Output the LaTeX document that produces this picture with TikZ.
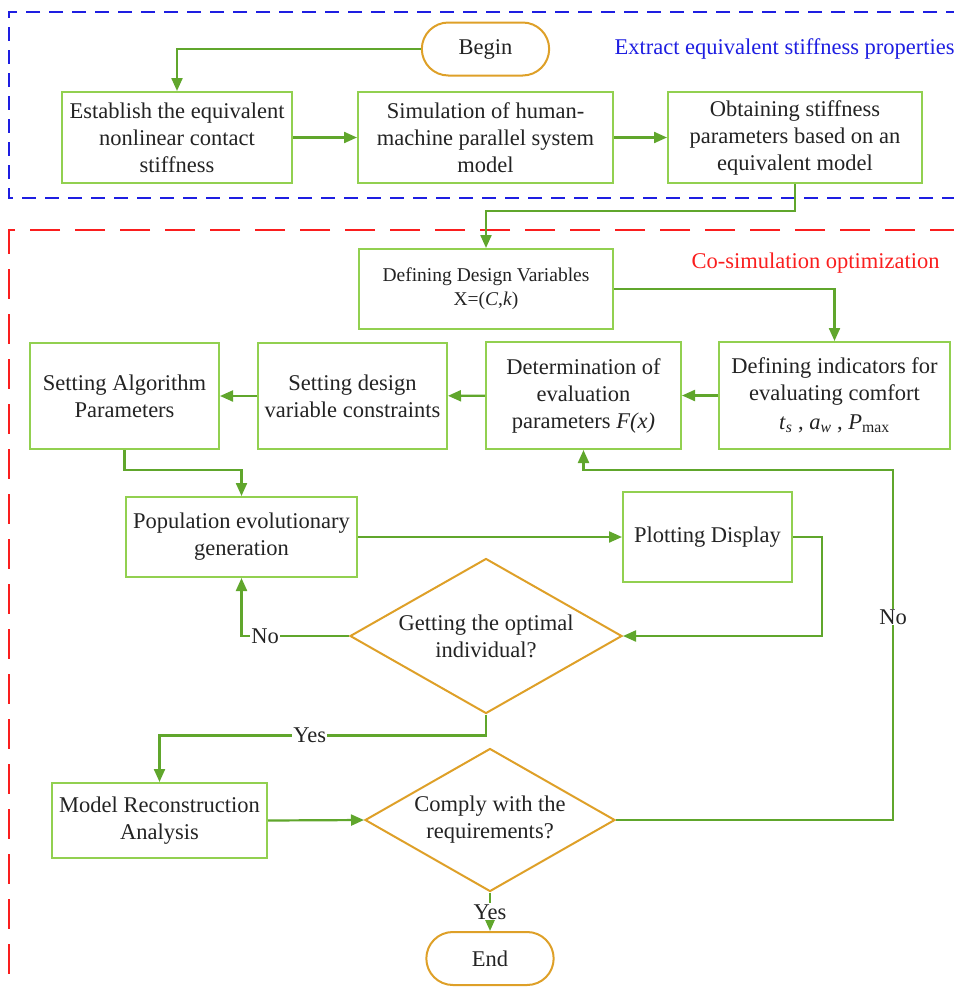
\documentclass[tikz,border=0pt]{standalone}
\usepackage{fontspec}
\setmainfont{Liberation Serif}
\usetikzlibrary{arrows.meta, calc, shapes.geometric, shapes.misc, positioning}
\definecolor{boxgreen}{RGB}{146,208,80}
\definecolor{arrowgreen}{RGB}{96,166,44}
\definecolor{termorange}{RGB}{222,160,40}
\definecolor{txtgray}{RGB}{35,35,35}
\definecolor{frameblue}{RGB}{30,30,225}
\definecolor{framered}{RGB}{250,30,30}

\begin{document}
\begin{tikzpicture}[x=1pt, y=-1pt,
    font=\fontsize{22.5}{27}\selectfont, text=txtgray,
    process/.style={draw=boxgreen, line width=2pt, align=center, inner sep=2pt},
    terminal/.style={draw=termorange, line width=2pt, rounded rectangle, minimum width=134pt, minimum height=53pt},
    decision/.style={draw=termorange, line width=2pt, diamond, inner sep=0pt},
    arr/.style={draw=arrowgreen, line width=2.2pt, -{Triangle[length=13pt,width=11pt]}},
    lbl/.style={fill=white, inner sep=1pt}]
    \useasboundingbox (0,0) rectangle (954,989);
    % frames
    \draw[frameblue, line width=2pt, dash pattern=on 14pt off 9pt] (960,12) -- (9,12) -- (9,198) -- (960,198);
    \draw[framered, line width=2pt, dash pattern=on 30pt off 15pt] (960,230) -- (9,230) -- (9,995);
    \node[text=frameblue, anchor=west] (ttl1) at (611,49) {Extract equivalent stiffness properties};
    \node[text=framered, anchor=west] (ttl2) at (688,263) {Co-simulation optimization};
    % stiffness part
    \node[terminal] (begin) at (485.5,49) {Begin};
    \node[process, minimum width=230pt, minimum height=91pt] (b1) at (177,137.5) {Establish the equivalent\\nonlinear contact\\stiffness};
    \node[process, minimum width=255pt, minimum height=91pt] (b2) at (485.5,137.5) {Simulation of human-\\machine parallel system\\model};
    \node[process, minimum width=254pt, minimum height=91pt] (b3) at (795,137.5) {Obtaining stiffness\\parameters based on an\\equivalent model};
    % optimization part
    \node[process, minimum width=254pt, minimum height=80pt, font=\fontsize{19.5}{24}\selectfont] (b4) at (486,289) {Defining Design Variables\\X=(\textit{C},\textit{k})};
    \node[process, minimum width=231pt, minimum height=107pt] (b5) at (834.5,395.5) {Defining indicators for\\evaluating comfort\\[2pt] \textit{t}\textsubscript{\textit{s}} , \textit{a}\textsubscript{\textit{w}} , \textit{P}\textsubscript{max}};
    \node[process, minimum width=195pt, minimum height=107pt] (b6) at (583.5,395.5) {Determination of\\evaluation\\parameters \textit{F(x)}};
    \node[process, minimum width=189pt, minimum height=106pt] (b7) at (352.5,396) {Setting design\\variable constraints};
    \node[process, minimum width=189pt, minimum height=106pt] (b8) at (124.5,396) {Setting Algorithm\\Parameters};
    \node[process, minimum width=231pt, minimum height=80pt] (b9) at (241.5,537) {Population evolutionary\\generation};
    \node[process, minimum width=169pt, minimum height=90pt] (b10) at (707.5,537) {Plotting Display};
    \node[decision, minimum width=272pt, minimum height=155pt, label={[align=center]center:Getting the optimal\\individual?}] (d1) at (486,636) {};
    \node[process, minimum width=215pt, minimum height=75pt] (b11) at (159.5,820.5) {Model Reconstruction\\Analysis};
    \node[decision, minimum width=250pt, minimum height=143pt, label={[align=center]center:Comply with the\\requirements?}] (d2) at (490,820) {};
    \node[terminal] (end) at (490,958.5) {End};
    \coordinate (back) at (893,470);
    % connectors
    \draw[arr] (begin.west) -| (b1.north);
    \draw[arr] (b1) -- (b2);
    \draw[arr] (b2) -- (b3);
    \draw[arr] (b3.south) -- ++(0,27) -| (b4.north);
    \draw[arr] (b4.east) -| (b5.north);
    \draw[arr] (b5) -- (b6);
    \draw[arr] (b6) -- (b7);
    \draw[arr] (b7) -- (b8);
    \draw[arr] (b8.south) -- ++(0,20) -| (b9.north);
    \draw[arr] (b9) -- (b10);
    \draw[arr] (b10.east) -- ++(29,0) |- (d1.east);
    \draw[arr] (d1.west) -| node[lbl, pos=0.39] {No} (b9.south);
    \draw[arr] (d1.south) -- ++(0,21) -| node[lbl, pos=0.27] {Yes} (b11.north);
    \draw[arr] (b11.east) -- (d2.west);
    \draw[arr] (d2.east) -| node[lbl, pos=0.79] {No} (back) -| (b6.south);
    \draw[arr] (d2.south) -- node[lbl] {Yes} (end.north);
\end{tikzpicture}
\end{document}
